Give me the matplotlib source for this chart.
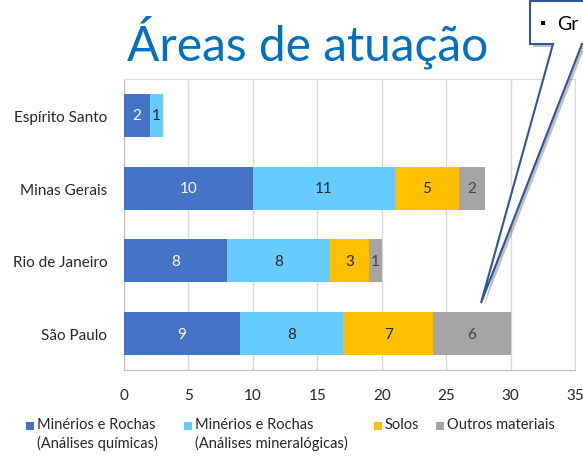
import matplotlib.pyplot as plt
from matplotlib.patches import Polygon, Rectangle
import numpy as np

plt.rcParams['font.family'] = ['Lato', 'DejaVu Sans']

estados = ['São Paulo', 'Rio de Janeiro', 'Minas Gerais', 'Espírito Santo']
quimicas = [9, 8, 10, 2]
mineralogicas = [8, 8, 11, 1]
solos = [7, 3, 5, 0]
outros = [6, 1, 2, 0]

series = [
    ('Minérios e Rochas\n(Análises químicas)', quimicas, '#4472C4', 'white'),
    ('Minérios e Rochas\n(Análises mineralógicas)', mineralogicas, '#66CCFF', '#262626'),
    ('Solos', solos, '#FFC000', '#262626'),
    ('Outros materiais', outros, '#A5A5A5', '#404040'),
]

W, H = 583, 460
fig = plt.figure(figsize=(W / 100, H / 100), dpi=100)
ax = fig.add_axes([124 / W, 1 - 371 / H, (575 - 124) / W, (371 - 80) / H])

y = np.arange(len(estados))
left = np.zeros(len(estados))
for name, vals, color, tcol in series:
    vals = np.array(vals)
    bars = ax.barh(y, vals, left=left, height=0.59, color=color, zorder=3)
    for b, v in zip(bars, vals):
        if v > 0:
            ax.text(b.get_x() + b.get_width() / 2, b.get_y() + b.get_height() / 2, str(v),
                    ha='center', va='center', color=tcol, fontsize=11, zorder=4)
    left += vals

ax.set_xlim(0, 35)
ax.set_ylim(-0.5, len(estados) - 0.5)
ax.set_xticks(np.arange(0, 36, 5))
ax.set_yticks(y)
ax.set_yticklabels(estados)
ax.tick_params(axis='both', length=0, labelsize=11, labelcolor='#262626')
ax.tick_params(axis='x', pad=13)
ax.tick_params(axis='y', pad=12)
ax.grid(axis='x', color='#D9D9D9', linewidth=1, zorder=0)
for s in ax.spines.values():
    s.set_color('#D9D9D9')
ax.spines['bottom'].set_color('#BFBFBF')
ax.spines['left'].set_color('#BFBFBF')

fig.text(308 / W, 1 - 42 / H, 'Áreas de atuação', ha='center', va='center',
         fontsize=34.5, color='#0070C0')

# legenda
leg_x = [26, 184, 374, 436]
for (name, vals, color, tcol), lx in zip(series, leg_x):
    fig.patches.append(Rectangle((lx / W, 1 - 431 / H), 8 / W, 8 / H,
                                 transform=fig.transFigure, facecolor=color, edgecolor='none'))
    fig.text((lx + 11) / W, 1 - 418 / H, name, ha='left', va='top',
             fontsize=10.5, color='#262626', linespacing=1.35)

# balão
pts_px = [(530, 2), (600, 2), (600, 45), (582, 45), (481, 304), (553, 45), (530, 45)]
shadow = Polygon([((px + 3) / W, 1 - (py + 3) / H) for px, py in pts_px], closed=True,
                 transform=fig.transFigure, facecolor='#000000', alpha=0.25,
                 edgecolor='none', zorder=5)
fig.patches.append(shadow)
callout = Polygon([(px / W, 1 - py / H) for px, py in pts_px], closed=True,
                  transform=fig.transFigure, facecolor='white', edgecolor='#2F5597',
                  linewidth=1.5, zorder=6)
fig.patches.append(callout)
fig.text(540 / W, 1 - 24 / H, '▪', ha='left', va='center', fontsize=11,
         color='#000000', zorder=7)
fig.text(557 / W, 1 - 24 / H, 'Gr', ha='left', va='center', fontsize=14,
         color='#000000', zorder=7)

fig.savefig('out.png', dpi=100)
